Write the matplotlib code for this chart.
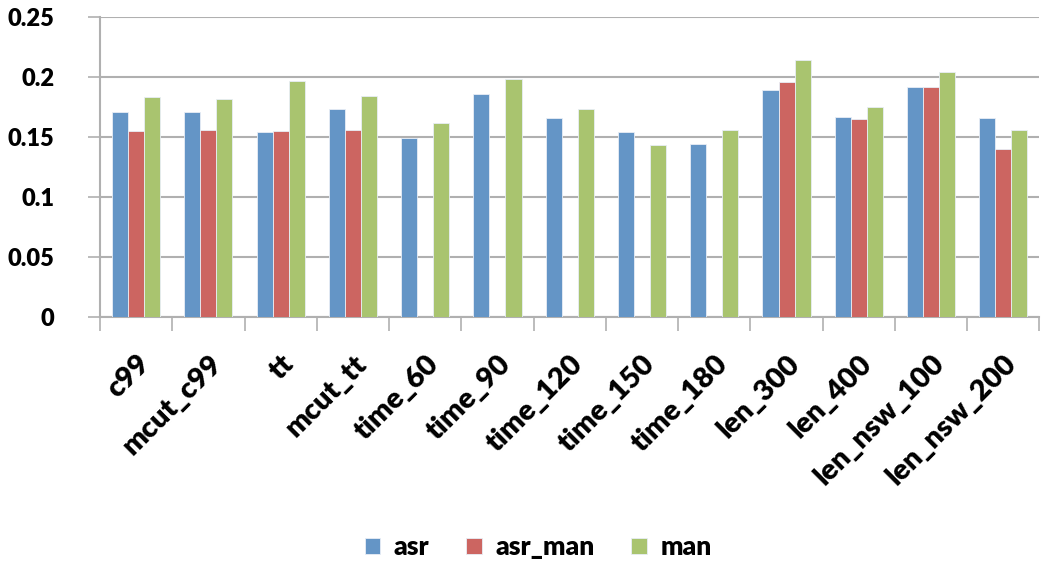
import matplotlib.pyplot as plt
import numpy as np

plt.rcParams['font.family'] = ['Lato', 'DejaVu Sans']

categories = ["c99", "mcut_c99", "tt", "mcut_tt", "time_60", "time_90", "time_120",
              "time_150", "time_180", "len_300", "len_400", "len_nsw_100", "len_nsw_200"]
asr = [0.171, 0.171, 0.154, 0.173, 0.149, 0.186, 0.166, 0.154, 0.144, 0.189, 0.167, 0.192, 0.166]
asr_man = [0.155, 0.156, 0.155, 0.156, np.nan, np.nan, np.nan, np.nan, np.nan,
           0.196, 0.165, 0.192, 0.140]
man = [0.183, 0.182, 0.197, 0.184, 0.162, 0.198, 0.173, 0.143, 0.156, 0.214, 0.175, 0.204, 0.156]
y_ticks = [0, 0.05, 0.1, 0.15, 0.2, 0.25]
y_labels = ["0", "0.05", "0.1", "0.15", "0.2", "0.25"]

series = [("asr", asr, "#6495c6"), ("asr_man", asr_man, "#cc6561"), ("man", man, "#a9c46f")]

fig = plt.figure(figsize=(10.45, 5.66), dpi=100)
ax = fig.add_axes([0.0957, 0.44, 0.899, 0.53])

x = np.arange(len(categories))
width = 1 / 4.5
for i, (name, vals, color) in enumerate(series):
    ax.bar(x + (i - 1) * width, vals, width, color=color, edgecolor="#e8eef6",
           linewidth=0.6, label=name, zorder=3)

ax.set_xlim(-0.5, len(categories) - 0.5)
ax.set_ylim(0, 0.25)
ax.set_yticks(y_ticks)
ax.set_yticklabels(y_labels, fontsize=17, fontweight="heavy")
ax.yaxis.grid(True, color="#b0b0b0", linewidth=1.5, zorder=0)

# category ticks at group boundaries, labels at group centres
ax.set_xticks(np.arange(len(categories) + 1) - 0.5)
ax.set_xticklabels([])
ax.set_xticks(x, minor=True)
ax.set_xticklabels(categories, minor=True, rotation=45, ha="right",
                   rotation_mode="anchor", fontsize=21, fontweight="heavy")
ax.tick_params(axis="x", which="minor", length=0, pad=24)
ax.tick_params(axis="x", which="major", length=10, color="#b0b0b0", width=1.2)
ax.tick_params(axis="y", length=9, color="#b0b0b0", width=1.2, pad=24)

for side in ["top", "right"]:
    ax.spines[side].set_visible(False)
for side in ["left", "bottom"]:
    ax.spines[side].set_color("#b0b0b0")
    ax.spines[side].set_linewidth(1.5)

fig.legend(loc="lower center", bbox_to_anchor=(0.515, -0.03), ncol=3, frameon=False,
           prop={"size": 19, "weight": "heavy"}, handlelength=0.6, handleheight=0.6,
           handletextpad=0.5, columnspacing=1.4)

fig.savefig("out.png", dpi=100)
